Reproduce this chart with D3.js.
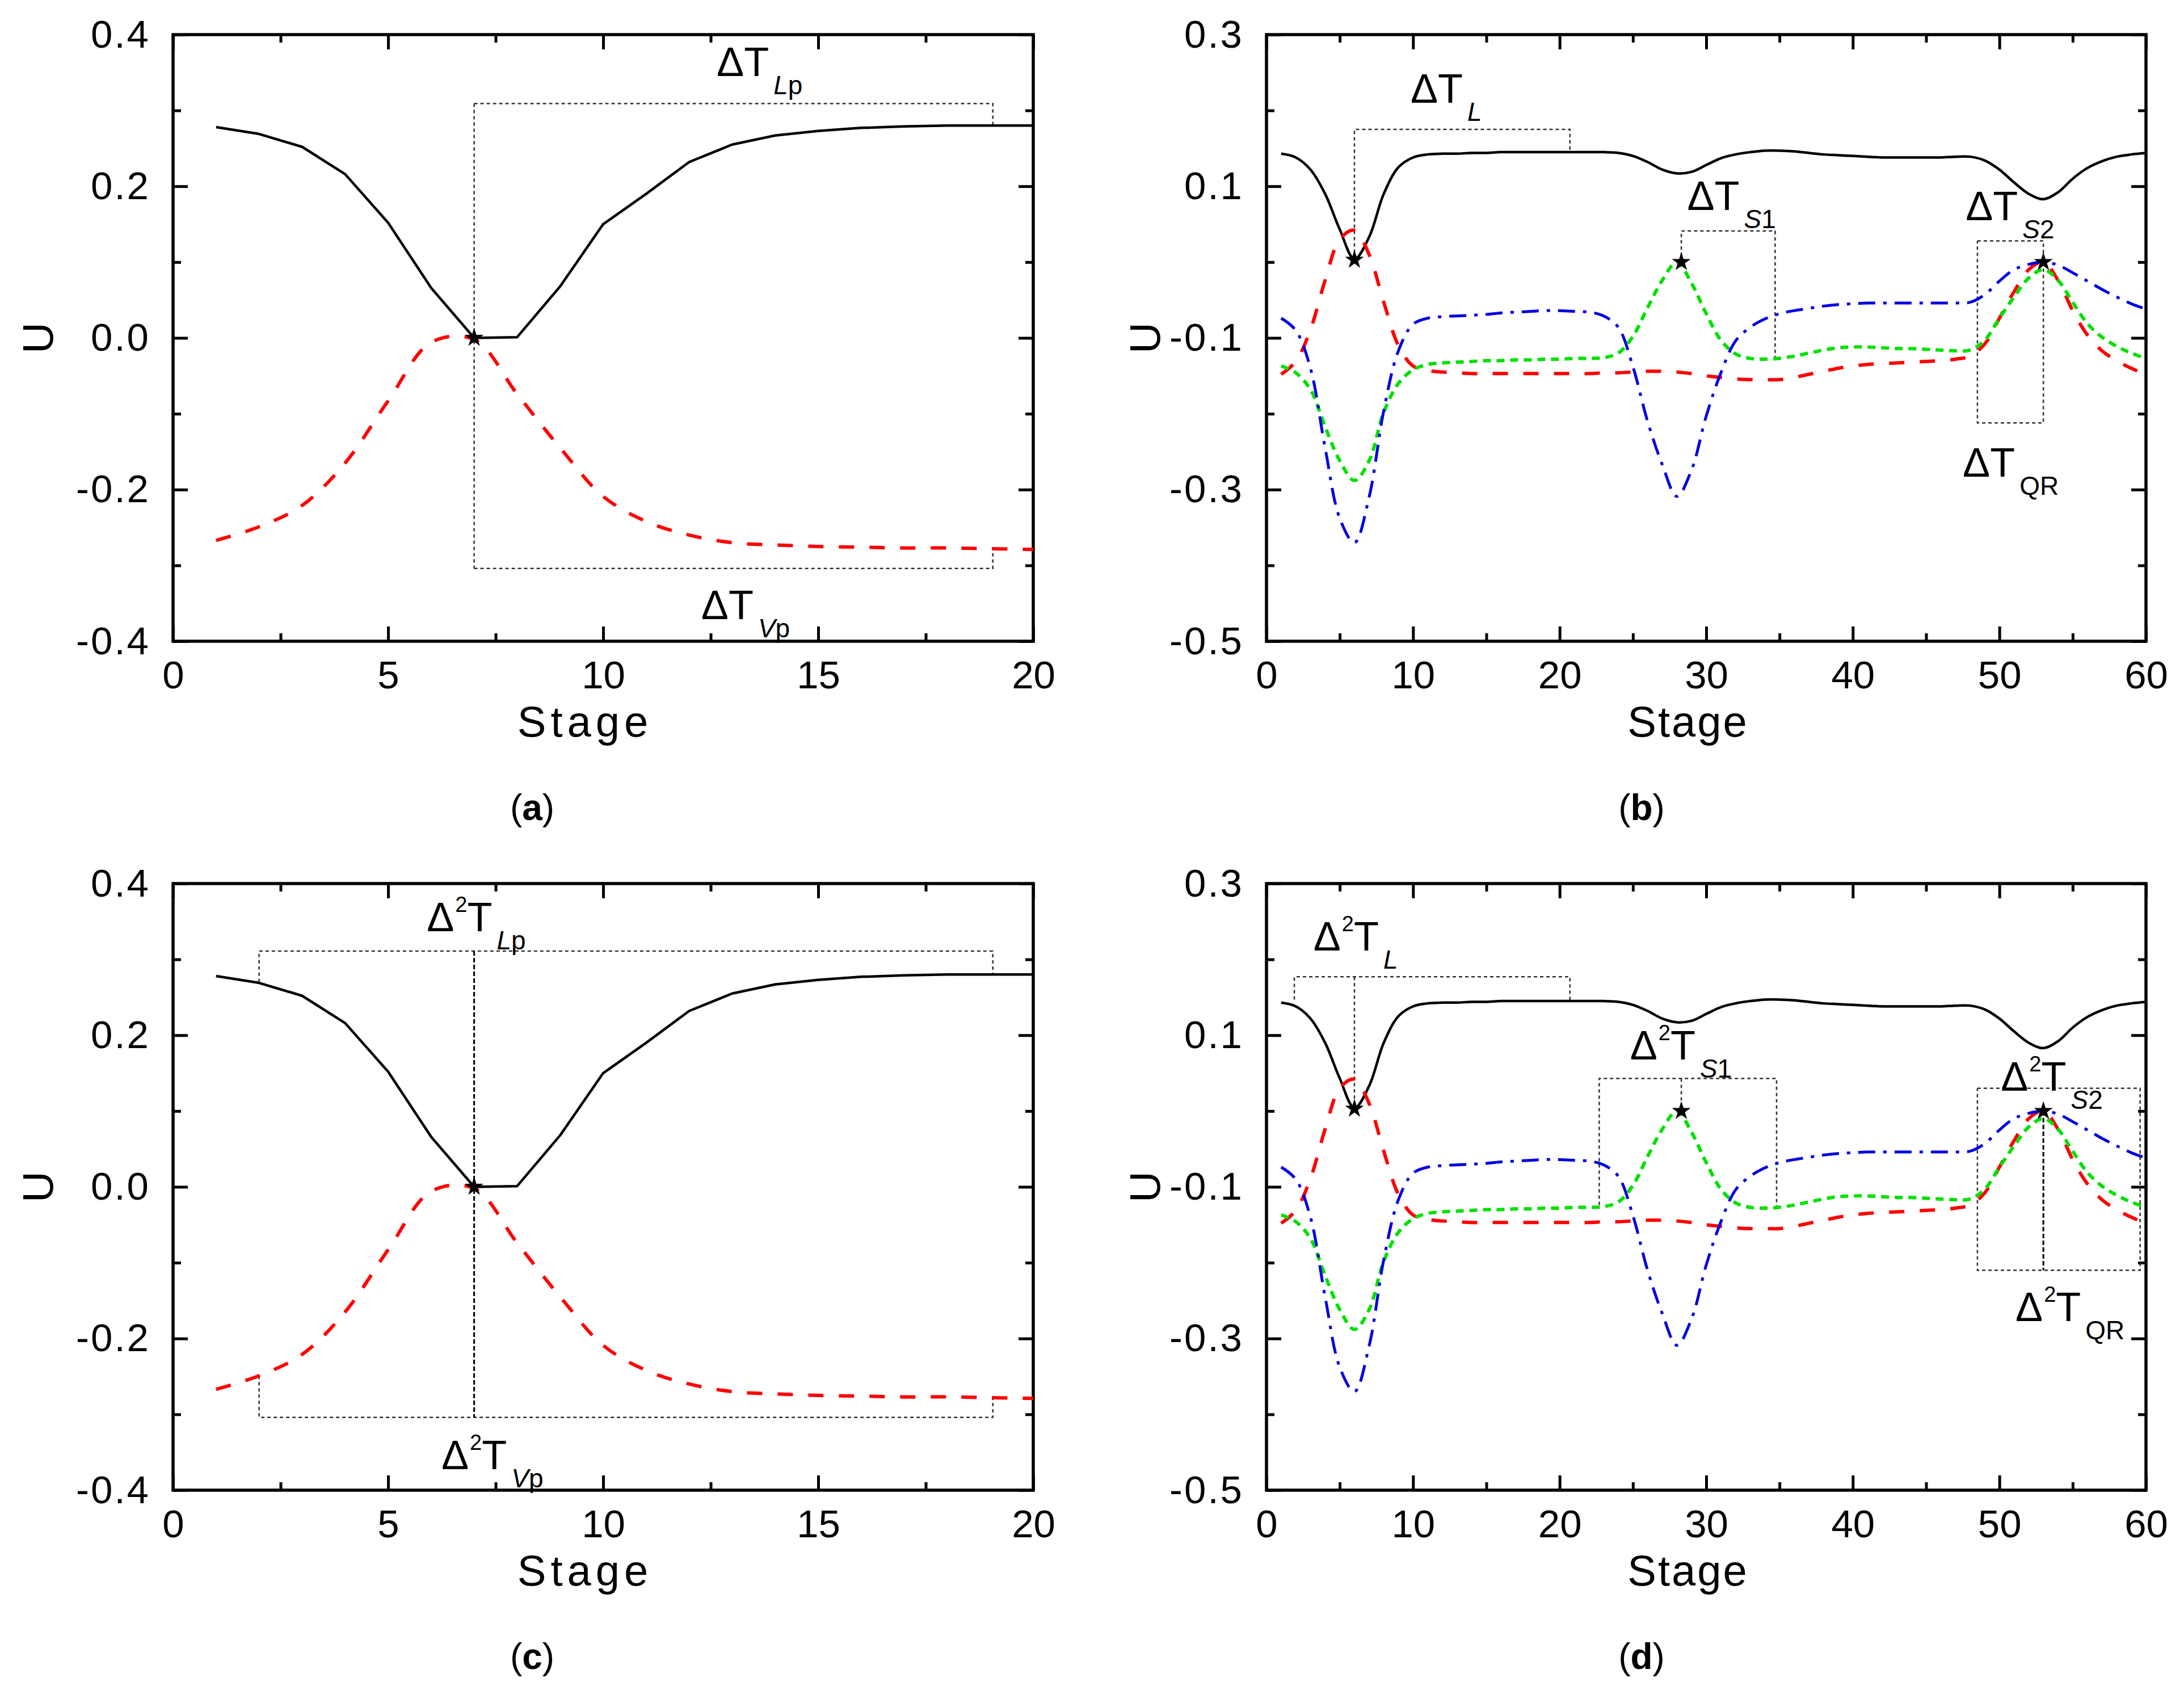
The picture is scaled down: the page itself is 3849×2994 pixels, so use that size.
<!DOCTYPE html>
<html>
<head>
<meta charset="utf-8">
<script src="https://cdn.jsdelivr.net/npm/d3@7"></script>
<style>
body { margin: 0; background: #fff; }
svg { display: block; }
text { font-family: "Liberation Sans", Arial, sans-serif; }
</style>
</head>
<body>
<svg id="fig" width="3849" height="2994"></svg>
<script>
// ---- data ----
let stagesA = [1,2,3,4,5,6,7,8,9,10,11,12,13,14,15,16,17,18,19,20]
let liquidA = [0.278,0.269,0.252,0.216,0.152,0.066,0.000,0.001,0.068,0.150,0.190,0.232,0.255,0.267,0.273,0.277,0.279,0.280,0.280,0.280]
let vaporA = [-0.267,-0.249,-0.221,-0.165,-0.083,-0.006,-0.002,-0.074,-0.145,-0.209,-0.242,-0.260,-0.270,-0.273,-0.275,-0.276,-0.277,-0.277,-0.278,-0.279]

let stagesB = [1,2,3,4,5,6,7,8,9,10,11,12,13,14,15,16,17,18,19,20,
    21,22,23,24,25,26,27,28,29,30,31,32,33,34,35,36,37,38,39,40,
    41,42,43,44,45,46,47,48,49,50,51,52,53,54,55,56,57,58,59,60]
let liquidB = [0.143,0.138,0.122,0.090,0.043,0.004,0.033,0.090,0.125,0.138,
    0.142,0.143,0.143,0.144,0.144,0.145,0.145,0.145,0.145,0.145,
    0.145,0.145,0.145,0.144,0.140,0.132,0.122,0.117,0.119,0.128,
    0.137,0.142,0.145,0.147,0.147,0.146,0.144,0.142,0.141,0.140,
    0.139,0.138,0.138,0.138,0.138,0.138,0.139,0.139,0.134,0.122,
    0.105,0.090,0.083,0.092,0.110,0.124,0.133,0.139,0.142,0.144]
let vaporB = [-0.148,-0.131,-0.089,-0.024,0.030,0.042,0.010,-0.053,-0.110,-0.137,
    -0.143,-0.145,-0.146,-0.147,-0.147,-0.147,-0.147,-0.147,-0.147,-0.147,
    -0.147,-0.147,-0.146,-0.146,-0.145,-0.144,-0.144,-0.145,-0.147,-0.150,
    -0.152,-0.154,-0.155,-0.155,-0.155,-0.152,-0.148,-0.144,-0.140,-0.137,
    -0.135,-0.134,-0.133,-0.132,-0.131,-0.130,-0.128,-0.124,-0.108,-0.074,
    -0.039,-0.010,0.000,-0.024,-0.064,-0.096,-0.117,-0.130,-0.140,-0.148]
let side1B = [-0.137,-0.146,-0.168,-0.217,-0.262,-0.288,-0.262,-0.198,-0.160,-0.142,
    -0.135,-0.133,-0.132,-0.131,-0.130,-0.130,-0.129,-0.129,-0.128,-0.128,
    -0.127,-0.127,-0.126,-0.120,-0.098,-0.060,-0.024,0.000,-0.028,-0.068,
    -0.103,-0.121,-0.127,-0.128,-0.127,-0.124,-0.120,-0.116,-0.113,-0.112,
    -0.112,-0.113,-0.114,-0.114,-0.115,-0.116,-0.117,-0.116,-0.103,-0.074,
    -0.046,-0.021,-0.010,-0.024,-0.053,-0.081,-0.099,-0.111,-0.120,-0.127]
let side2B = [-0.074,-0.090,-0.140,-0.245,-0.338,-0.370,-0.310,-0.196,-0.117,-0.082,
    -0.074,-0.072,-0.071,-0.070,-0.069,-0.067,-0.066,-0.065,-0.064,-0.064,
    -0.065,-0.066,-0.071,-0.086,-0.138,-0.210,-0.267,-0.309,-0.274,-0.203,
    -0.146,-0.104,-0.086,-0.075,-0.068,-0.064,-0.061,-0.058,-0.056,-0.055,
    -0.054,-0.054,-0.054,-0.054,-0.054,-0.054,-0.054,-0.053,-0.043,-0.025,
    -0.010,-0.003,0.000,-0.004,-0.014,-0.025,-0.036,-0.046,-0.055,-0.062]

let xTicksA = [0, 5, 10, 15, 20]
let xMinorA = [2.5, 7.5, 12.5, 17.5]
let yTicksA = [0.4, 0.2, 0.0, -0.2, -0.4]
let yMinorA = [0.3, 0.1, -0.1, -0.3]
let xTicksB = [0, 10, 20, 30, 40, 50, 60]
let xMinorB = [5, 15, 25, 35, 45, 55]
let yTicksB = [0.3, 0.1, -0.1, -0.3, -0.5]
let yMinorB = [0.2, 0.0, -0.2, -0.4]

// pinch points (stars)
let pinchA = [[7, 0.0]]
let pinchB = [[6, 0.003], [28.3, 0.0], [53, 0.0]]

// dotted brackets, in data units
let bracketsA = [
    [[7, 0.309], [7, -0.304]],
    [[7, 0.309], [19.06, 0.309], [19.06, 0.281]],
    [[7, -0.304], [19.06, -0.304], [19.06, -0.279]]
]
let bracketsC = [
    [[2, 0.270], [2, 0.311], [19.06, 0.311], [19.06, 0.281]],
    [[2, -0.249], [2, -0.304], [19.06, -0.304], [19.06, -0.279]]
]
let midC = [[[7, 0.311], [7, -0.304]]]
let bracketsB = [
    [[6, 0.004], [6, 0.175], [20.7, 0.175], [20.7, 0.145]],
    [[28.3, 0.0], [28.3, 0.041], [34.7, 0.041], [34.7, -0.127]],
    [[48.5, 0.028], [53, 0.028], [53, -0.212], [48.5, -0.212], [48.5, 0.028]]
]
let bracketsD = [
    [[1.9, 0.147], [1.9, 0.177], [20.7, 0.177], [20.7, 0.145]],
    [[6, 0.177], [6, 0.004]],
    [[22.7, -0.124], [22.7, 0.043], [34.8, 0.043], [34.8, -0.127]],
    [[28.3, 0.043], [28.3, 0.0]],
    [[48.5, 0.030], [59.6, 0.030], [59.6, -0.210], [48.5, -0.210], [48.5, 0.030]]
]
let midD = [[[53, 0.0], [53, -0.210]]]

let labelsA = [
    { x: 12.64, y: 0.345, sq: false, subI: "L", subR: "p" },
    { x: 12.28, y: -0.371, sq: false, subI: "V", subR: "p" }
]
let labelsC = [
    { x: 5.9, y: 0.337, sq: true, subI: "L", subR: "p" },
    { x: 6.24, y: -0.372, sq: true, subI: "V", subR: "p" }
]
let labelsB = [
    { x: 9.83, y: 0.210, sq: false, subI: "L", subR: "" },
    { x: 28.7, y: 0.069, sq: false, subI: "S", subR: "1" },
    { x: 47.7, y: 0.055, sq: false, subI: "S", subR: "2" },
    { x: 47.5, y: -0.283, sq: false, subI: "", subR: "QR" }
]
let labelsD = [
    { x: 3.2, y: 0.212, sq: true, subI: "L", subR: "" },
    { x: 24.8, y: 0.068, sq: true, subI: "S", subR: "1" },
    { x: 50.1, y: 0.027, sq: true, subI: "S", subR: "2" },
    { x: 51.1, y: -0.277, sq: true, subI: "", subR: "QR" }
]

let styles = {
    liquid: { color: "#000000", dash: null, w: 4.5 },
    vapor: { color: "#ff0000", dash: "27,27", w: 6 },
    side1: { color: "#00e000", dash: "14,10", w: 6 },
    side2: { color: "#0000e0", dash: "30,14,6,14", w: 5 }
}

let svg = d3.select("#fig")
svg.append("rect").attr("width", 3849).attr("height", 2994).attr("fill", "#fff")

function drawPanel(p) {
    let xScale = d3.scaleLinear().domain(p.xDomain).range([p.left, p.right])
    let yScale = d3.scaleLinear().domain(p.yDomain).range([p.bottom, p.top])
    let g = svg.append("g")

    // ticks: major + minor on all four sides, pointing inward
    let sides = [
        { ax: d3.axisBottom, tr: "translate(0," + p.bottom + ")", sc: xScale, major: p.xTicks, minor: p.xMinor, lab: true, pad: 34 },
        { ax: d3.axisTop, tr: "translate(0," + p.top + ")", sc: xScale, major: p.xTicks, minor: p.xMinor, lab: false },
        { ax: d3.axisLeft, tr: "translate(" + p.left + ",0)", sc: yScale, major: p.yTicks, minor: p.yMinor, lab: true, pad: 40 },
        { ax: d3.axisRight, tr: "translate(" + p.right + ",0)", sc: yScale, major: p.yTicks, minor: p.yMinor, lab: false }
    ]
    sides.forEach(s => {
        let isY = (s.sc === yScale)
        let major = g.append("g")
            .attr("transform", s.tr)
            .call(s.ax(s.sc).tickValues(s.major).tickSize(-26).tickPadding(s.pad || 0)
                .tickFormat(s.lab ? (isY ? (d => d.toFixed(1)) : d3.format("d")) : ""))
        major.select(".domain").remove()
        major.selectAll("line").attr("stroke-width", 5)
        major.selectAll("text")
            .attr("font-size", 69)
            .attr("font-family", "Liberation Sans, Arial, sans-serif")
            .attr("fill", "#000")
            .style("letter-spacing", isY ? "3px" : "0px")

        let minor = g.append("g")
            .attr("transform", s.tr)
            .call(s.ax(s.sc).tickValues(s.minor).tickSize(-14).tickFormat(""))
        minor.select(".domain").remove()
        minor.selectAll("line").attr("stroke-width", 5)
    })

    // frame
    g.append("rect")
        .attr("x", p.left).attr("y", p.top)
        .attr("width", p.right - p.left).attr("height", p.bottom - p.top)
        .attr("fill", "none").attr("stroke", "#000").attr("stroke-width", 5.5)

    // axis titles
    g.append("text")
        .attr("x", (p.left + p.right) / 2 - 32)
        .attr("y", p.bottom + 168)
        .attr("text-anchor", "middle")
        .attr("font-size", 76)
        .style("letter-spacing", p.stageSpacing + "px")
        .text("Stage")
    g.append("text")
        .attr("transform", "translate(" + (p.left - p.uOffset) + "," + ((p.top + p.bottom) / 2) + ") rotate(-90)")
        .attr("text-anchor", "middle")
        .attr("dy", "0.36em")
        .attr("font-size", 76)
        .text("U")

    // dotted brackets
    let pathGen = d3.line().x(d => xScale(d[0])).y(d => yScale(d[1]))
    g.append("g").selectAll("path")
        .data(p.brackets)
        .enter()
        .append("path")
        .attr("d", pathGen)
        .attr("fill", "none")
        .attr("stroke", "#333")
        .attr("stroke-width", 2.5)
        .attr("stroke-dasharray", "6,5")
    g.append("g").selectAll("path")
        .data(p.mids)
        .enter()
        .append("path")
        .attr("d", pathGen)
        .attr("fill", "none")
        .attr("stroke", "#000")
        .attr("stroke-width", 3)
        .attr("stroke-dasharray", "8,4")

    // profiles
    p.series.forEach(s => {
        let st = styles[s.key]
        let pts = p.stages.map((x, i) => [x, s.values[i]])
        let line = d3.line()
            .x(d => xScale(d[0]))
            .y(d => yScale(d[1]))
            .curve(s.linear ? d3.curveLinear : d3.curveCatmullRom.alpha(0.5))
        g.append("path")
            .datum(pts)
            .attr("d", line)
            .attr("fill", "none")
            .attr("stroke", st.color)
            .attr("stroke-width", st.w)
            .attr("stroke-dasharray", st.dash)
            .attr("stroke-linejoin", "round")
    })

    // pinch stars
    g.append("g").selectAll("path")
        .data(p.pinch)
        .enter()
        .append("path")
        .attr("transform", d => "translate(" + xScale(d[0]) + "," + yScale(d[1]) + ")")
        .attr("d", d3.symbol(d3.symbolStar, 340))
        .attr("fill", "#000")

    // delta labels
    p.labels.forEach(d => {
        let t = g.append("text")
            .attr("x", xScale(d.x))
            .attr("y", yScale(d.y))
            .attr("font-size", 72)
        t.append("tspan").text("\u0394")
        if (d.sq) {
            t.append("tspan").attr("dy", -34).attr("dx", 2).attr("font-size", 38).text("2")
            t.append("tspan").attr("dy", 34).text("T")
        } else {
            t.append("tspan").text("T")
        }
        let first = true
        if (d.subI) {
            t.append("tspan").attr("dx", 8).attr("dy", 32).attr("font-size", 46)
                .style("font-style", "italic").text(d.subI)
            first = false
        }
        if (d.subR) {
            let sp = t.append("tspan").attr("font-size", 46).text(d.subR)
            if (first) sp.attr("dx", 8).attr("dy", 32)
        }
    })

    // panel letter
    let lt = g.append("text")
        .attr("x", p.letterX)
        .attr("y", p.bottom + 315)
        .attr("text-anchor", "middle")
        .attr("font-size", 64)
        .attr("font-family", "Liberation Serif, Times New Roman, serif")
    lt.append("tspan").text("(")
    lt.append("tspan").attr("font-weight", "bold").text(p.letter)
    lt.append("tspan").text(")")
}

let rowTop = [61, 1557]
let plotH = 1069

drawPanel({
    left: 305, right: 1821, top: rowTop[0], bottom: rowTop[0] + plotH,
    xDomain: [0, 20], yDomain: [-0.4, 0.4],
    xTicks: xTicksA, xMinor: xMinorA, yTicks: yTicksA, yMinor: yMinorA,
    stages: stagesA,
    series: [{ key: "liquid", values: liquidA, linear: true }, { key: "vapor", values: vaporA }],
    pinch: pinchA, brackets: bracketsA, mids: [], labels: labelsA,
    letter: "a", letterX: 938, uOffset: 239, stageSpacing: 8
})
drawPanel({
    left: 2232, right: 3782, top: rowTop[0], bottom: rowTop[0] + plotH,
    xDomain: [0, 60], yDomain: [-0.5, 0.3],
    xTicks: xTicksB, xMinor: xMinorB, yTicks: yTicksB, yMinor: yMinorB,
    stages: stagesB,
    series: [{ key: "liquid", values: liquidB }, { key: "vapor", values: vaporB },
        { key: "side1", values: side1B }, { key: "side2", values: side2B }],
    pinch: pinchB, brackets: bracketsB, mids: [], labels: labelsB,
    letter: "b", letterX: 2893, uOffset: 215, stageSpacing: 3
})
drawPanel({
    left: 305, right: 1821, top: rowTop[1], bottom: rowTop[1] + plotH,
    xDomain: [0, 20], yDomain: [-0.4, 0.4],
    xTicks: xTicksA, xMinor: xMinorA, yTicks: yTicksA, yMinor: yMinorA,
    stages: stagesA,
    series: [{ key: "liquid", values: liquidA, linear: true }, { key: "vapor", values: vaporA }],
    pinch: pinchA, brackets: bracketsC, mids: midC, labels: labelsC,
    letter: "c", letterX: 938, uOffset: 239, stageSpacing: 8
})
drawPanel({
    left: 2232, right: 3782, top: rowTop[1], bottom: rowTop[1] + plotH,
    xDomain: [0, 60], yDomain: [-0.5, 0.3],
    xTicks: xTicksB, xMinor: xMinorB, yTicks: yTicksB, yMinor: yMinorB,
    stages: stagesB,
    series: [{ key: "liquid", values: liquidB }, { key: "vapor", values: vaporB },
        { key: "side1", values: side1B }, { key: "side2", values: side2B }],
    pinch: pinchB, brackets: bracketsD, mids: midD, labels: labelsD,
    letter: "d", letterX: 2893, uOffset: 215, stageSpacing: 3
})
</script>
</body>
</html>
